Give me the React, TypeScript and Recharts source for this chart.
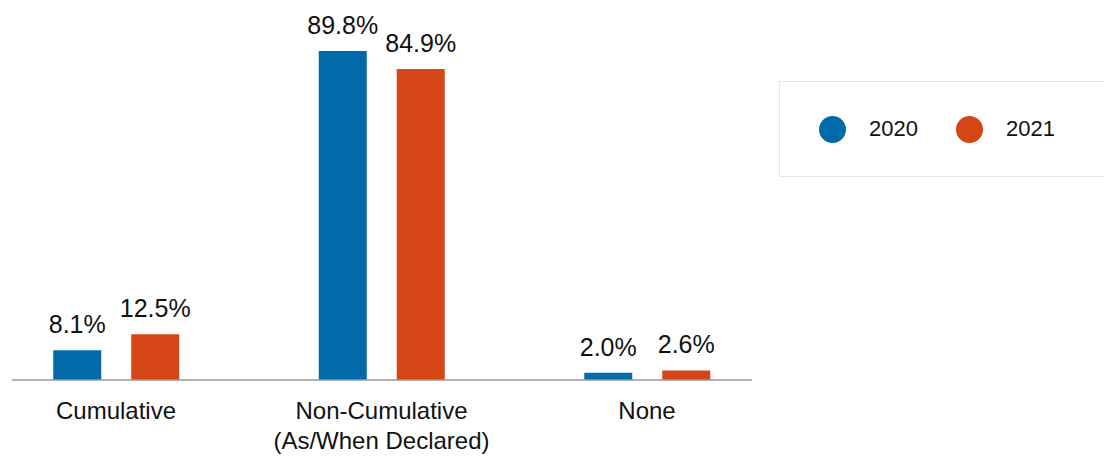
import { BarChart, Bar, XAxis, YAxis, Legend, LabelList } from "recharts";

// dividend policy split by year
const categories = ["Cumulative", "Non-Cumulative\n(As/When Declared)", "None"];
const seriesNames = ["2020", "2021"];
const values2020 = [8.1, 89.8, 2.0];
const values2021 = [12.5, 84.9, 2.6];

const FONT = '"Liberation Sans", Arial, sans-serif';
const BLUE = "#006BA8";
const ORANGE = "#D64515";

const data = categories.map((name, i) => ({
  name,
  y2020: values2020[i],
  y2021: values2021[i],
}));

function CategoryTick({ x, y, payload }: any) {
  const lines = String(payload.value).split("\n");
  return (
    <text x={x} y={y} textAnchor="middle" fill="#111" fontSize={24} fontFamily={FONT}>
      {lines.map((line, i) => (
        <tspan key={i} x={x} dy={i === 0 ? 39 : 30}>
          {line}
        </tspan>
      ))}
    </text>
  );
}

function LegendBox({ payload }: any) {
  return (
    <div
      style={{
        boxSizing: "border-box",
        width: "100%",
        height: "100%",
        border: "1.5px solid #e6e6e6",
        display: "flex",
        alignItems: "center",
        paddingLeft: 39,
        fontFamily: FONT,
        fontSize: 22,
        color: "#111",
      }}
    >
      {(payload || []).map((entry: any, i: number) => (
        <div key={i} style={{ display: "flex", alignItems: "center", marginLeft: i === 0 ? 0 : 38 }}>
          <span
            style={{
              width: 27,
              height: 27,
              borderRadius: "50%",
              background: entry.color,
              display: "inline-block",
            }}
          />
          <span style={{ marginLeft: 23 }}>{entry.value}</span>
        </div>
      ))}
    </div>
  );
}

const fmt = (v: number) => `${v.toFixed(1)}%`;

export default function App() {
  return (
    <div style={{ width: 1096, height: 453, overflow: "hidden", fontFamily: FONT }}>
      <BarChart
        width={1096}
        height={453}
        data={data}
        margin={{ top: 5.6, right: 352, bottom: 21, left: 4 }}
        barSize={48}
        barGap={30}
      >
        <XAxis
          dataKey="name"
          axisLine={{ stroke: "#9a9a9a", strokeWidth: 1.5 }}
          tickLine={false}
          tickSize={0}
          tickMargin={0}
          height={60}
          interval={0}
          padding={{ left: -28.75, right: -27.75 }}
          tick={<CategoryTick />}
        />
        <YAxis hide domain={[0, 100]} />
        <Legend
          layout="horizontal"
          verticalAlign="middle"
          align="center"
          wrapperStyle={{ top: 73, left: 771, width: 345, height: 96 }}
          content={<LegendBox />}
        />
        <Bar dataKey="y2020" name={seriesNames[0]} fill={BLUE} isAnimationActive={false}>
          <LabelList dataKey="y2020" position="top" offset={17} formatter={fmt} fontSize={25} fill="#111" fontFamily={FONT} />
        </Bar>
        <Bar dataKey="y2021" name={seriesNames[1]} fill={ORANGE} isAnimationActive={false}>
          <LabelList dataKey="y2021" position="top" offset={17} formatter={fmt} fontSize={25} fill="#111" fontFamily={FONT} />
        </Bar>
      </BarChart>
    </div>
  );
}
